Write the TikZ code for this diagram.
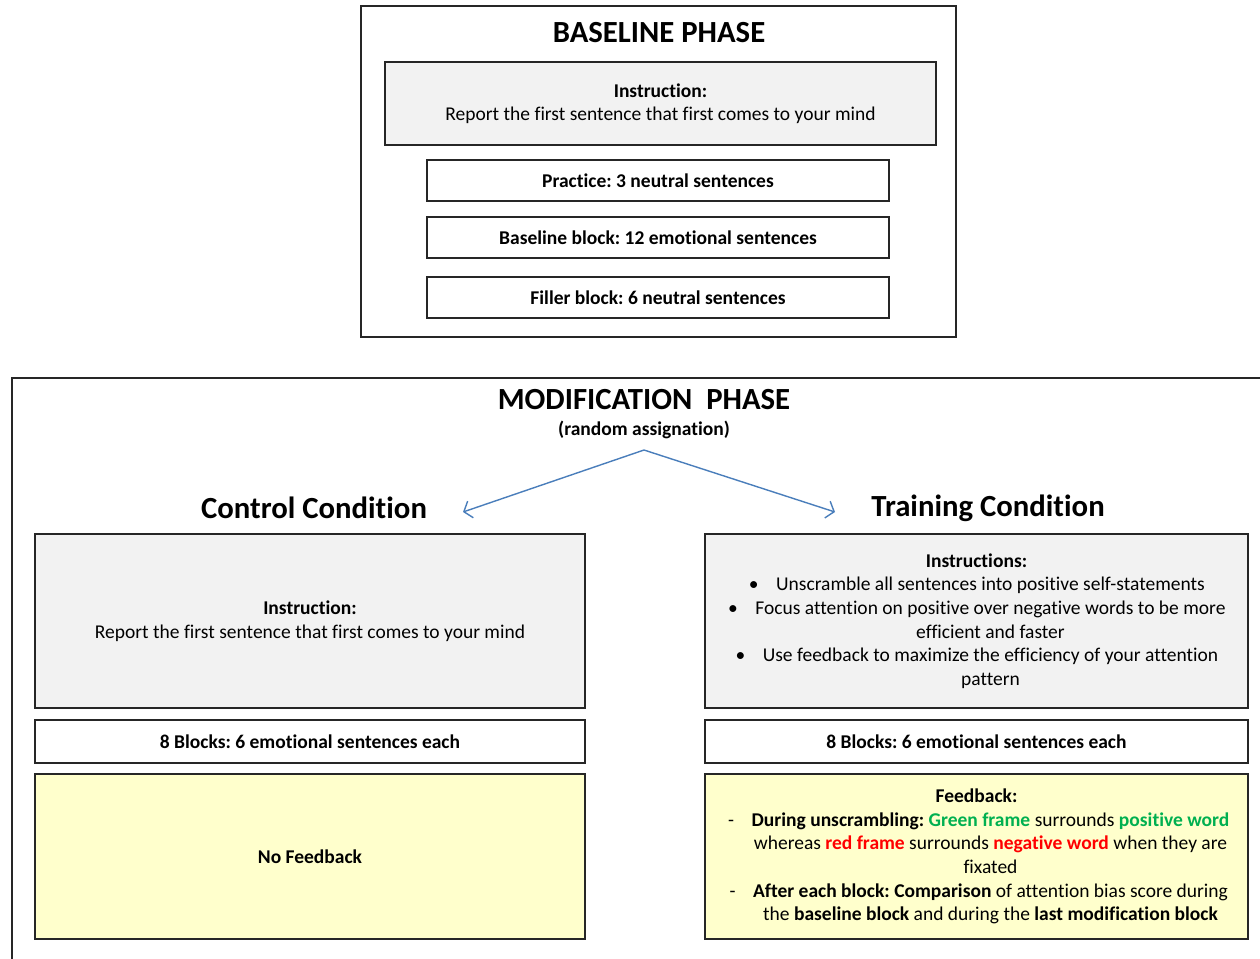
\documentclass[tikz,border=0pt]{standalone}
\usepackage{fontspec}
\setmainfont{Carlito}[Ligatures=NoCommon]
\usetikzlibrary{positioning, arrows.meta, calc}
\definecolor{boxgray}{HTML}{F2F2F2}
\definecolor{boxyellow}{HTML}{FFFFCC}
\definecolor{arrowblue}{HTML}{4A7EBB}
\definecolor{posgreen}{HTML}{00B050}
\definecolor{negred}{HTML}{FF0000}
\newcommand{\phasefont}{\fontsize{17.5}{21}\selectfont\bfseries}
\newcommand{\bodyfont}{\fontsize{11.1}{13.4}\selectfont}
\newcommand{\hangitem}[2]{\par\noindent\llap{#1\hspace{10pt}}#2}
\frenchspacing

\begin{document}
\begin{tikzpicture}[x=0.02cm, y=-0.02cm, font=\bodyfont,
    frame/.style={draw=black!85, line width=1.1pt},
    panel/.style={draw=black!85, line width=1.1pt, inner sep=0pt, align=center},
    branch/.style={draw=arrowblue, line width=0.8pt, -{Straight Barb[length=4pt, width=10pt]}}]
    \useasboundingbox (0,0) rectangle (1260,958);

    % baseline phase
    \node[frame, minimum width=11.9cm, minimum height=6.62cm] (base) at (658.5,171.5) {};
    \node[font=\phasefont] (basetitle) at (659,33) {BASELINE PHASE};
    \node[panel, fill=boxgray, minimum width=11.02cm, minimum height=1.66cm] (binstr) at (660.5,103.5)
          {\textbf{Instruction:}\\Report the first sentence that first comes to your mind};
    \node[panel, minimum width=9.24cm, minimum height=0.82cm, font=\bodyfont\bfseries] (prac) at (658,180.5)
          {Practice: 3 neutral sentences};
    \node[panel, minimum width=9.24cm, minimum height=0.82cm, font=\bodyfont\bfseries] (bblock) at (658,237.5)
          {Baseline block: 12 emotional sentences};
    \node[panel, minimum width=9.24cm, minimum height=0.82cm, font=\bodyfont\bfseries] (filler) at (658,297.5)
          {Filler block: 6 neutral sentences};

    % modification phase
    \draw[frame] (12,960) -- (12,378) -- (1262,378);
    \node[font=\phasefont] (modtitle) at (644,400) {MODIFICATION~~PHASE};
    \node[font=\bodyfont\bfseries] (assign) at (644,430) {(random assignation)};
    \coordinate (split) at (644,450);
    \coordinate (ctrlend) at (463,512);
    \coordinate (trainend) at (835,512);
    \draw[branch] (split) -- (ctrlend);
    \draw[branch] (split) -- (trainend);

    % control condition
    \node[font=\phasefont] (ctrltitle) at (314,508) {Control Condition};
    \node[panel, fill=boxgray, minimum width=11cm, minimum height=3.48cm] (cinstr) at (310,621)
          {\textbf{Instruction:}\\Report the first sentence that first comes to your mind};
    \node[panel, minimum width=11cm, minimum height=0.86cm, font=\bodyfont\bfseries] (cblocks) at (310,741.5)
          {8 Blocks: 6 emotional sentences each};
    \node[panel, fill=boxyellow, minimum width=11cm, minimum height=3.3cm, font=\bodyfont\bfseries] (cfeed) at (310,856.5)
          {No Feedback};

    % training condition
    \node[font=\phasefont] (traintitle) at (988,508) {Training Condition};
    \node[panel, fill=boxgray, minimum width=10.86cm, minimum height=3.48cm] (tinstr) at (976.5,621)
          {\parbox{10.6cm}{\centering\textbf{Instructions:}\par
           \leftskip=0.56cm plus 1fil
           \hangitem{\textbullet}{Unscramble all sentences into positive self-statements}
           \hangitem{\textbullet}{Focus attention on positive over negative words to be more\\efficient and faster}
           \hangitem{\textbullet}{Use feedback to maximize the efficiency of your attention\\pattern}\par}};
    \node[panel, minimum width=10.86cm, minimum height=0.86cm, font=\bodyfont\bfseries] (tblocks) at (976.5,741.5)
          {8 Blocks: 6 emotional sentences each};
    \node[panel, fill=boxyellow, minimum width=10.86cm, minimum height=3.3cm] (tfeed) at (976.5,856.5)
          {\parbox{10.6cm}{\centering\textbf{Feedback:}\par
           \leftskip=0.56cm plus 1fil
           \hangitem{-}{\textbf{During unscrambling:} \textcolor{posgreen}{\textbf{Green frame}} surrounds \textcolor{posgreen}{\textbf{positive word}}\\
             whereas \textcolor{negred}{\textbf{red frame}} surrounds \textcolor{negred}{\textbf{negative word}} when they are\\fixated}
           \hangitem{-}{\textbf{After each block: Comparison} of attention bias score during\\
             the \textbf{baseline block} and during the \textbf{last modification block}}\par}};
\end{tikzpicture}
\end{document}
